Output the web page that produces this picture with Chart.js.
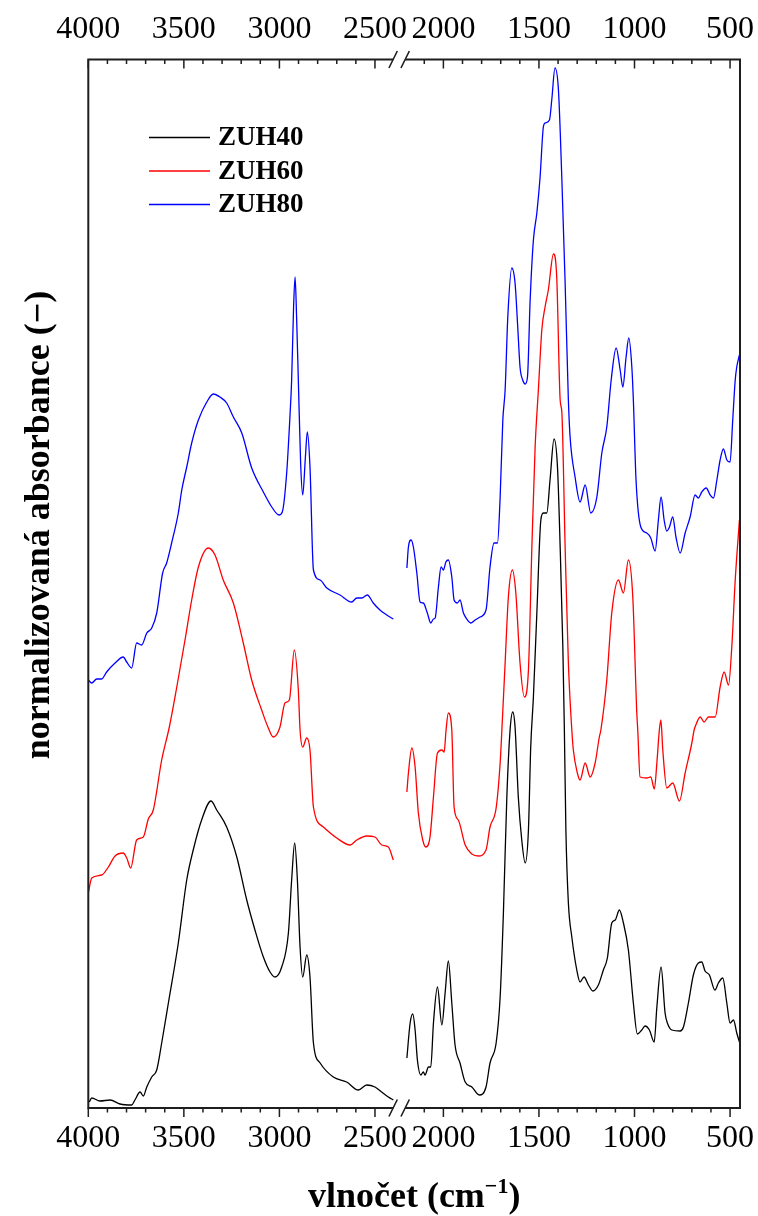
<!DOCTYPE html>
<html>
<head>
<meta charset="utf-8">
<script src="https://cdn.jsdelivr.net/npm/chart.js@4.4.1/dist/chart.umd.min.js"></script>
<style>
  html, body { margin: 0; padding: 0; background: #fff; }
  canvas { display: block; }
</style>
</head>
<body>
<canvas id="ftir" width="758" height="1216"></canvas>
<script>
// --- spectra (wavenumber cm-1 / normalised absorbance) ---
const zuh40LeftWn  = [3995,3982,3939,3886,3834,3773,3756,3729,3712,3694,3668,3642,3616,3581,3529,3485,3451,3407,3358,3328,3276,3223,3171,3128,3084,3049,3023,2988,2953,2936,2920,2906,2892,2878,2857,2840,2822,2787,2718,2648,2587,2543,2500,2465,2430,2404];
const zuh40LeftAbs = [0.006,0.010,0.007,0.008,0.004,0.003,0.008,0.016,0.012,0.021,0.031,0.038,0.065,0.105,0.165,0.228,0.258,0.288,0.307,0.298,0.281,0.251,0.208,0.178,0.151,0.136,0.131,0.141,0.175,0.228,0.265,0.228,0.161,0.131,0.153,0.131,0.065,0.045,0.031,0.026,0.018,0.023,0.021,0.016,0.011,0.008];

const zuh40RightWn  = [2191,2174,2160,2148,2136,2118,2105,2096,2078,2066,2052,2031,2008,1991,1974,1956,1939,1913,1886,1851,1812,1777,1756,1724,1703,1686,1668,1651,1637,1625,1608,1590,1572,1555,1543,1529,1511,1490,1477,1459,1442,1421,1403,1389,1375,1367,1359,1346,1328,1302,1285,1264,1241,1218,1189,1163,1142,1119,1101,1079,1058,1032,1006,985,962,945,922,897,883,861,840,828,805,761,744,718,692,666,648,631,608,579,561,538,517,500,482,465,451];
const zuh40RightAbs = [0.050,0.085,0.094,0.078,0.048,0.033,0.036,0.033,0.041,0.041,0.085,0.121,0.083,0.115,0.147,0.105,0.063,0.045,0.026,0.021,0.013,0.021,0.045,0.065,0.111,0.195,0.311,0.378,0.396,0.381,0.311,0.268,0.245,0.278,0.361,0.411,0.495,0.588,0.595,0.595,0.628,0.669,0.641,0.561,0.461,0.378,0.278,0.205,0.171,0.138,0.126,0.131,0.123,0.117,0.123,0.138,0.150,0.185,0.188,0.198,0.185,0.158,0.105,0.074,0.078,0.082,0.078,0.066,0.101,0.141,0.095,0.085,0.078,0.077,0.081,0.105,0.133,0.145,0.146,0.137,0.133,0.118,0.125,0.130,0.105,0.085,0.088,0.075,0.066];

const zuh60LeftWn  = [4000,3982,3930,3895,3860,3817,3799,3778,3747,3712,3686,3660,3616,3576,3537,3494,3459,3424,3372,3337,3294,3241,3189,3145,3093,3058,3032,2997,2971,2948,2922,2901,2892,2878,2857,2840,2822,2770,2700,2630,2595,2543,2500,2465,2430,2404];
const zuh60LeftAbs = [0.215,0.230,0.233,0.241,0.252,0.255,0.250,0.240,0.268,0.271,0.289,0.298,0.348,0.381,0.421,0.468,0.508,0.541,0.560,0.553,0.528,0.505,0.465,0.428,0.398,0.380,0.371,0.381,0.405,0.408,0.458,0.418,0.378,0.361,0.370,0.358,0.301,0.281,0.270,0.263,0.268,0.272,0.271,0.263,0.261,0.248];

const zuh60RightWn  = [2191,2183,2165,2148,2131,2108,2092,2070,2052,2031,2008,1996,1986,1974,1956,1944,1922,1886,1851,1817,1777,1756,1724,1703,1694,1677,1660,1639,1621,1599,1576,1555,1537,1520,1503,1485,1468,1451,1424,1407,1389,1380,1363,1346,1328,1320,1299,1285,1258,1232,1206,1184,1176,1145,1119,1084,1058,1032,1009,988,983,971,936,915,896,883,870,862,852,831,800,765,735,700,688,683,656,636,613,578,552,531,508,491,473,451];
const zuh60RightAbs = [0.316,0.335,0.360,0.341,0.295,0.268,0.261,0.271,0.311,0.355,0.358,0.356,0.378,0.395,0.378,0.301,0.288,0.263,0.254,0.252,0.258,0.281,0.300,0.345,0.378,0.445,0.511,0.538,0.515,0.445,0.411,0.438,0.561,0.661,0.718,0.778,0.801,0.818,0.854,0.831,0.708,0.695,0.561,0.445,0.378,0.358,0.335,0.328,0.345,0.331,0.345,0.371,0.378,0.428,0.495,0.528,0.515,0.548,0.511,0.395,0.378,0.331,0.330,0.331,0.319,0.345,0.378,0.388,0.358,0.320,0.325,0.307,0.335,0.365,0.378,0.381,0.391,0.386,0.391,0.391,0.421,0.436,0.423,0.461,0.528,0.588];

const zuh80LeftWn  = [4000,3982,3956,3930,3904,3860,3817,3799,3773,3747,3721,3694,3668,3642,3611,3590,3564,3529,3511,3485,3459,3424,3380,3346,3311,3276,3241,3197,3145,3084,3040,3002,2985,2962,2944,2936,2926,2918,2910,2901,2889,2878,2864,2854,2840,2822,2787,2752,2683,2622,2595,2569,2540,2509,2474,2438,2404];
const zuh80LeftAbs = [0.428,0.425,0.429,0.429,0.436,0.445,0.451,0.446,0.440,0.465,0.463,0.475,0.480,0.495,0.535,0.545,0.565,0.595,0.618,0.641,0.665,0.688,0.706,0.714,0.711,0.705,0.691,0.675,0.640,0.616,0.601,0.593,0.596,0.635,0.695,0.728,0.800,0.831,0.790,0.728,0.645,0.613,0.651,0.676,0.641,0.538,0.528,0.520,0.513,0.506,0.510,0.510,0.513,0.505,0.498,0.493,0.489];

const zuh80RightWn  = [2191,2183,2169,2157,2139,2122,2105,2084,2066,2052,2043,2026,2012,2000,1987,1974,1956,1944,1927,1913,1895,1878,1857,1834,1808,1777,1756,1735,1717,1703,1689,1677,1663,1642,1625,1611,1599,1585,1572,1560,1546,1529,1511,1494,1477,1468,1445,1433,1416,1398,1380,1363,1346,1337,1311,1285,1258,1229,1197,1171,1145,1122,1096,1075,1061,1044,1030,1014,1006,992,967,936,915,892,875,861,845,831,817,800,783,761,735,709,683,666,648,625,604,587,569,552,535,517,500,486,473,465,451];
const zuh80RightAbs = [0.540,0.561,0.568,0.561,0.535,0.506,0.505,0.495,0.485,0.489,0.490,0.521,0.541,0.538,0.546,0.548,0.531,0.508,0.505,0.508,0.495,0.489,0.485,0.488,0.491,0.498,0.541,0.565,0.565,0.611,0.688,0.718,0.791,0.840,0.825,0.781,0.741,0.728,0.724,0.731,0.808,0.868,0.895,0.931,0.981,0.985,0.988,1.008,1.040,1.018,0.928,0.825,0.708,0.671,0.631,0.606,0.623,0.595,0.611,0.655,0.681,0.728,0.760,0.738,0.721,0.751,0.770,0.741,0.708,0.628,0.581,0.575,0.570,0.557,0.588,0.611,0.588,0.577,0.581,0.591,0.571,0.555,0.575,0.591,0.613,0.610,0.616,0.620,0.613,0.610,0.628,0.648,0.659,0.648,0.646,0.688,0.728,0.741,0.753];

// --- axis ranges and ticks (broken x axis) ---
const leftRange  = [2342, 4000];
const rightRange = [448, 2200];
const breakLeftWn = 2405;
const leftMajor  = [4000, 3500, 3000, 2500];
const rightMajor = [2000, 1500, 1000, 500];
const leftMinor  = [3900, 3800, 3700, 3600, 3400, 3300, 3200, 3100, 2900, 2800, 2700, 2600];
const rightMinor = [2100, 1900, 1800, 1700, 1600, 1400, 1300, 1200, 1100, 900, 800, 700, 600];

const seriesNames  = ['ZUH40', 'ZUH60', 'ZUH80'];
const seriesColors = ['#000000', '#ff0000', '#0000ff'];

const SERIF = "'Liberation Serif', 'Times New Roman', serif";

function pts(wn, ab) { return wn.map((w, i) => ({ x: w, y: ab[i] })); }

const segments = [
  [zuh40LeftWn, zuh40LeftAbs, zuh40RightWn, zuh40RightAbs],
  [zuh60LeftWn, zuh60LeftAbs, zuh60RightWn, zuh60RightAbs],
  [zuh80LeftWn, zuh80LeftAbs, zuh80RightWn, zuh80RightAbs]
];

const datasets = [];
segments.forEach((s, i) => {
  const base = { label: seriesNames[i], borderColor: seriesColors[i], borderWidth: 1.3, pointRadius: 0,
                 fill: false, cubicInterpolationMode: 'monotone', yAxisID: 'y' };
  datasets.push({ ...base, data: pts(s[0], s[1]), xAxisID: 'xL' });
  datasets.push({ ...base, data: pts(s[2], s[3]), xAxisID: 'xR' });
});

function xAxis(range, majors, position, weight, height) {
  return {
    type: 'linear', position: position, stack: 'wn', stackWeight: range[1] - range[0], weight: weight,
    reverse: true, min: range[0], max: range[1],
    grid: { display: false, drawTicks: false },
    border: { display: false },
    afterBuildTicks: s => { s.ticks = majors.map(v => ({ value: v })); },
    afterFit: s => { s.height = height; s.paddingLeft = 0; s.paddingRight = 0; },
    ticks: { autoSkip: false, maxRotation: 0, padding: 11, color: '#000',
             font: { family: SERIF, size: 32 }, callback: v => String(v) }
  };
}

const decor = {
  id: 'decor',
  afterDraw(chart) {
    const ctx = chart.ctx;
    const { left, right, top, bottom } = chart.chartArea;
    const xL = chart.scales.xL, xR = chart.scales.xR;
    const brkL = xL.getPixelForValue(breakLeftWn);
    const brkR = xR.getPixelForValue(rightRange[1]);
    ctx.save();

    // frame with gap at the break
    ctx.strokeStyle = '#1e1e1e';
    ctx.lineWidth = 2;
    ctx.beginPath();
    ctx.moveTo(left, top - 1); ctx.lineTo(left, bottom + 1);
    ctx.moveTo(right, top - 1); ctx.lineTo(right, bottom + 1);
    [top, bottom].forEach(y => {
      ctx.moveTo(left, y); ctx.lineTo(brkL, y);
      ctx.moveTo(brkR, y); ctx.lineTo(right, y);
    });
    ctx.stroke();

    // break marks
    ctx.lineWidth = 1.6;
    ctx.beginPath();
    [top, bottom].forEach(y => [brkL, brkR].forEach(x => {
      ctx.moveTo(x - 4.2, y + 8.5); ctx.lineTo(x + 4.2, y - 8.5);
    }));
    ctx.stroke();

    // ticks: top inward, bottom outward (both downward)
    ctx.lineWidth = 1.5;
    ctx.beginPath();
    const tick = (scale, vals, len) => vals.forEach(v => {
      const x = scale.getPixelForValue(v);
      ctx.moveTo(x, top); ctx.lineTo(x, top + len);
      ctx.moveTo(x, bottom); ctx.lineTo(x, bottom + len);
    });
    tick(xL, leftMajor, 9); tick(xR, rightMajor, 9);
    tick(xL, leftMinor, 4.5); tick(xR, rightMinor, 4.5);
    ctx.stroke();

    // legend
    const legY = [137.5, 171, 204.5];
    ctx.font = 'bold 27px ' + SERIF;
    ctx.textBaseline = 'middle';
    ctx.textAlign = 'left';
    seriesNames.forEach((name, i) => {
      ctx.strokeStyle = seriesColors[i];
      ctx.lineWidth = 1.3;
      ctx.beginPath(); ctx.moveTo(149, legY[i]); ctx.lineTo(210, legY[i]); ctx.stroke();
      ctx.fillStyle = '#000';
      ctx.fillText(name, 218, legY[i] + 1);
    });

    // x title with superscript
    const mainFont = 'bold 36px ' + SERIF, supFont = 'bold 22px ' + SERIF;
    const p1 = 'vlnočet (cm', p2 = '\u22121', p3 = ')';
    ctx.font = mainFont; const w1 = ctx.measureText(p1).width, w3 = ctx.measureText(p3).width;
    ctx.font = supFont; const w2 = ctx.measureText(p2).width;
    let tx = (left + right) / 2 - (w1 + w2 + w3) / 2;
    const ty = 1195;
    ctx.textBaseline = 'alphabetic';
    ctx.font = mainFont; ctx.fillText(p1, tx, ty + 12); tx += w1;
    ctx.font = supFont; ctx.fillText(p2, tx, ty - 2); tx += w2;
    ctx.font = mainFont; ctx.fillText(p3, tx, ty + 12);

    // y title
    ctx.translate(40, 525);
    ctx.rotate(-Math.PI / 2);
    ctx.font = mainFont;
    ctx.textAlign = 'center';
    ctx.textBaseline = 'middle';
    ctx.fillText('normalizovaná absorbance (\u2212)', 0, 0);
    ctx.restore();
  }
};

new Chart(document.getElementById('ftir'), {
  type: 'line',
  data: { datasets: datasets },
  options: {
    responsive: false,
    animation: false,
    devicePixelRatio: 1,
    events: [],
    layout: { padding: { left: 88.3, right: 18, top: 0, bottom: 0 } },
    plugins: { legend: { display: false }, tooltip: { enabled: false } },
    scales: {
      xL:  xAxis(leftRange,  leftMajor,  'bottom', 0, 108),
      xR:  xAxis(rightRange, rightMajor, 'bottom', 1, 108),
      xLt: xAxis(leftRange,  leftMajor,  'top',    1, 59.5),
      xRt: xAxis(rightRange, rightMajor, 'top',    0, 59.5),
      y: { type: 'linear', display: false, min: 0, max: 1.0485 }
    }
  },
  plugins: [decor]
});
</script>
</body>
</html>
